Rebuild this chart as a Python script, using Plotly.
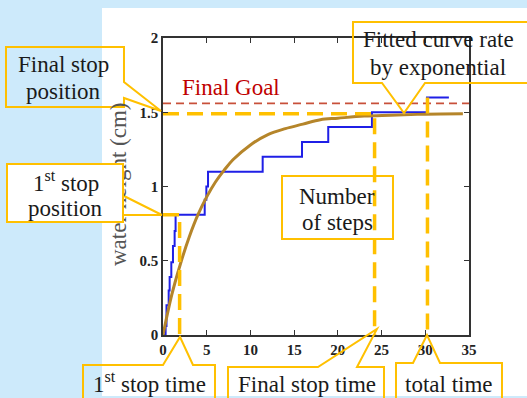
import plotly.graph_objects as go

# measured water height (blue staircase)
step_time = [0, 0.3, 0.4, 0.65, 0.76, 0.95, 1.14, 1.33, 1.44, 4.77, 4.96, 5.15,
             11.4, 15.9, 18.9, 23.9, 30.2, 32.7]
step_height = [0, 0.06, 0.2, 0.3, 0.39, 0.49, 0.6, 0.7, 0.81, 0.91, 1.0, 1.1,
               1.2, 1.3, 1.4, 1.5, 1.6, 1.6]

# exponential fit
fit_time = [0, 1, 2, 3, 4, 5, 6, 7, 8, 10, 12, 14, 16, 18, 20, 23, 26, 30, 34.3]
fit_height = [0, 0.27, 0.48, 0.66, 0.81, 0.93, 1.03, 1.11, 1.18, 1.28, 1.35,
              1.39, 1.42, 1.45, 1.46, 1.474, 1.48, 1.487, 1.49]

final_goal = 1.56
first_stop_time = 1.9
first_stop_height = 0.81
final_stop_time = 24.2
final_stop_height = 1.49
total_time = 30.25
total_height = 1.6

x_ticks = [0, 5, 10, 15, 20, 25, 30, 35]
y_ticks = [0, 0.5, 1, 1.5, 2]
y_tick_text = ["0", "0.5", "1", "1.5", "2"]

W, H = 527, 398
L, R, T, B = 163, 469, 38, 335
SERIF = "Liberation Serif, Times New Roman, serif"
YELLOW = "#ffc000"


def px(x, y):
    """pixel position -> paper fraction"""
    return (x - L) / (R - L), (B - y) / (B - T)


def outline(points, closed=True):
    pts = [px(x, y) for x, y in points]
    path = "M " + " L ".join(f"{a:.4f},{b:.4f}" for a, b in pts)
    return path + (" Z" if closed else "")


fig = go.Figure()

fig.add_trace(go.Scatter(
    x=[0, 35], y=[final_goal, final_goal], mode="lines",
    line=dict(color="#c8503a", width=1.6, dash="8px,5px"),
))
fig.add_trace(go.Scatter(
    x=step_time, y=step_height, mode="lines", line_shape="hv",
    line=dict(color="#1f1fe6", width=2),
))
fig.add_trace(go.Scatter(
    x=fit_time, y=fit_height, mode="lines", line_shape="spline",
    line=dict(color="#b5852a", width=3),
))
orange = dict(color=YELLOW, width=3.5, dash="16px,8px")
fig.add_trace(go.Scatter(
    x=[0, first_stop_time, first_stop_time],
    y=[first_stop_height, first_stop_height, 0],
    mode="lines", line=orange,
))
fig.add_trace(go.Scatter(
    x=[0, final_stop_time, final_stop_time],
    y=[final_stop_height, final_stop_height, 0],
    mode="lines", line=orange,
))
fig.add_trace(go.Scatter(
    x=[total_time, total_time], y=[total_height, 0],
    mode="lines", line=orange,
))

# white slide panel behind the chart
x0, y0 = px(102, 396)
x1, y1 = px(530, 8)
shapes = [dict(type="rect", xref="paper", yref="paper", x0=x0, x1=x1, y0=y0, y1=y1,
               fillcolor="white", line_width=0, layer="below")]

# callout outlines (pixel coords)
boxes = [
    [(6, 47), (124, 47), (124, 82), (161, 111), (124, 98), (124, 107), (6, 107)],
    [(353, 22), (540, 22), (540, 83), (425, 83), (404, 113), (382, 83), (353, 83)],
    [(282, 176), (393, 176), (393, 239), (282, 239)],
    [(83, 365), (163, 365), (180, 337), (193, 365), (215, 365), (215, 420), (83, 420)],
    [(228, 367), (318, 367), (377, 329), (357, 367), (384, 367), (384, 420), (228, 420)],
    [(396, 363), (413, 363), (427, 335), (440, 363), (502, 363), (502, 420), (396, 420)],
]
for pts in boxes:
    shapes.append(dict(type="path", xref="paper", yref="paper", path=outline(pts),
                       line=dict(color=YELLOW, width=2), layer="above"))
# pointer of the "1st stop position" box (the box itself is an annotation below)
shapes.append(dict(type="path", xref="paper", yref="paper",
                   path=outline([(124, 196), (162, 215), (124, 215)], closed=False),
                   line=dict(color=YELLOW, width=2), layer="above"))


def note(text, x, y, size=23, color="#1a1a1a", **kw):
    ax, ay = px(x, y)
    return dict(text=text, x=ax, y=ay, xref="paper", yref="paper", showarrow=False,
                xanchor="center", yanchor="middle",
                font=dict(family=SERIF, size=size, color=color), **kw)


annotations = [
    note("water height (cm)", 118, 185, size=23, color="#555555", textangle=-90),
    # white box of "1st stop position" hides part of the axis title
    note(" ", 65, 193, bgcolor="white", bordercolor=YELLOW, borderwidth=2,
         borderpad=0, width=114, height=56),
    note("Final stop", 63, 64),
    note("position", 63, 91),
    note("1<sup>st</sup> stop", 66, 181),
    note("position", 65, 208),
    note("Fitted curve rate", 438, 40),
    note("by exponential", 438, 67),
    note("Number", 337, 196),
    note("of steps", 337, 223),
    note("1<sup>st</sup> stop time", 149, 382),
    note("Final stop time", 307, 385),
    note("total time", 449, 385),
    note("Final Goal", 231, 87, color="#c00000"),
]

axis_common = dict(
    showline=True, linecolor="#333333", linewidth=1.5, mirror="ticks",
    ticks="inside", ticklen=5, tickwidth=1.3, tickcolor="#333333",
    showgrid=False, zeroline=False,
    tickfont=dict(family=SERIF, size=15, color="#222222", weight="bold"),
)

fig.update_layout(
    width=W, height=H, autosize=False,
    margin=dict(l=L, r=W - R, t=T, b=H - B),
    paper_bgcolor="#cdeafb", plot_bgcolor="white",
    showlegend=False,
    xaxis=dict(range=[0, 35], tickvals=x_ticks, **axis_common),
    yaxis=dict(range=[0, 2], tickvals=y_ticks, ticktext=y_tick_text, **axis_common),
    shapes=shapes,
    annotations=annotations,
)

# drop the page's default body margin so the figure fills the window
fig.write_html("out.html", config={"displayModeBar": False},
               post_script="document.body.style.margin='0';")
